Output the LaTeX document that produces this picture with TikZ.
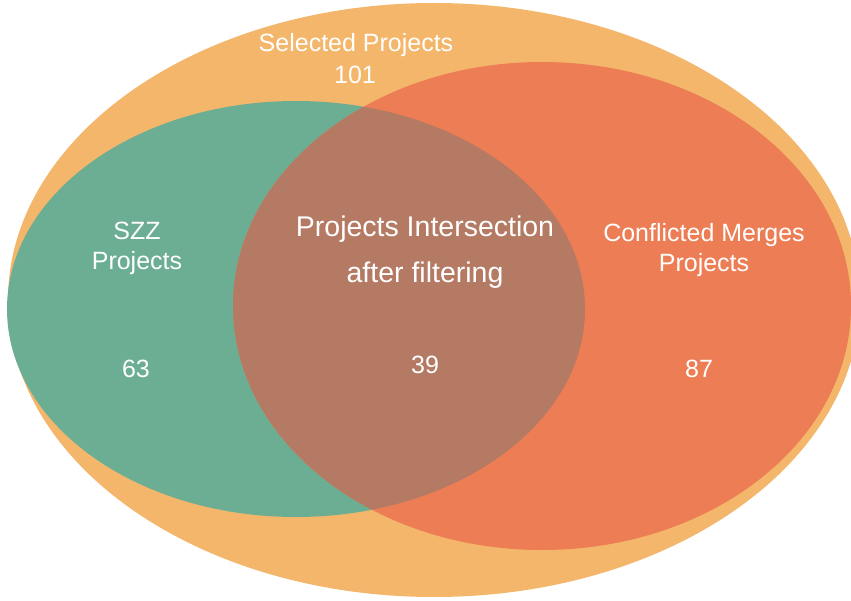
\documentclass[tikz,border=0pt]{standalone}
\usepackage{fontspec}
\setmainfont{Liberation Sans}
\definecolor{selorange}{HTML}{F4B66A}
\definecolor{szzgreen}{HTML}{6BAE94}
\definecolor{mergered}{HTML}{EC7D54}
\definecolor{interbrown}{HTML}{B47A64}
\tikzset{
  setlabel/.style={text=white, align=center, inner sep=0pt, font=\fontsize{25}{30}\selectfont},
  bigsetlabel/.style={setlabel, font=\fontsize{28.5}{46}\selectfont},
}
\begin{document}
\begin{tikzpicture}[x=1pt,y=-1pt]
  \useasboundingbox (0,0) rectangle (851,601);
  % all selected projects
  \fill[selorange] (434,300) ellipse [x radius=426, y radius=297];
  % SZZ projects
  \fill[szzgreen] (296,309) ellipse [x radius=289, y radius=208];
  % conflicted merges projects
  \fill[mergered] (542,306) ellipse [x radius=309, y radius=244];
  % overlap of the two sets
  \begin{scope}
    \clip (296,309) ellipse [x radius=289, y radius=208];
    \fill[interbrown] (542,306) ellipse [x radius=309, y radius=244];
  \end{scope}

  \node[setlabel] (sel) at (356,45) {Selected Projects};
  \node[setlabel] (selnum) at (355,75) {101};
  \node[setlabel] (szz) at (137,248) {SZZ\\Projects};
  \node[setlabel] (szznum) at (136,369) {63};
  \node[bigsetlabel] (inter) at (425,252) {Projects Intersection\\after filtering};
  \node[setlabel] (internum) at (425,365) {39};
  \node[setlabel] (merge) at (704,250) {Conflicted Merges\\Projects};
  \node[setlabel] (mergenum) at (699,369) {87};
\end{tikzpicture}
\end{document}
